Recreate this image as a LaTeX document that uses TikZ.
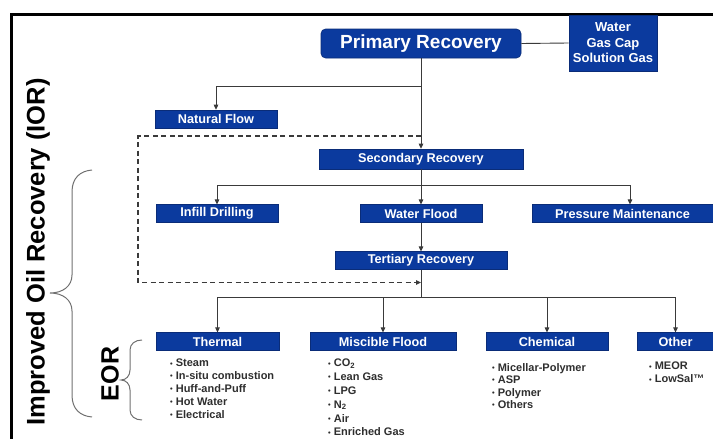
\documentclass[tikz,border=0pt]{standalone}
\usepackage{fontspec}
\setmainfont{Liberation Sans}
\usetikzlibrary{arrows.meta}
\definecolor{boxblue}{HTML}{0B3A9E}
\definecolor{boxedge}{HTML}{0A2C78}
\definecolor{txtgray}{HTML}{2E2E2E}
\definecolor{linegray}{HTML}{3A3A3A}
\definecolor{bracegray}{HTML}{707070}
\newcommand\mybul{\raisebox{0.8pt}{\fontsize{7.5}{7.5}\selectfont •}\hspace{3pt}}
\begin{document}
\begin{tikzpicture}[x=1pt,y=-1pt,
  bx/.style={fill=boxblue,draw=boxedge,line width=0.6pt,text=white,
    font=\bfseries\fontsize{12.7}{14}\selectfont,inner sep=0pt,anchor=center,
    minimum height=17.5pt},
  conn/.style={draw=linegray,line width=0.9pt},
  arr/.style={conn,-{Triangle[length=5pt,width=4.5pt]}},
  dsh/.style={conn,line width=1.3pt,dash pattern=on 5pt off 3.5pt,-{Triangle[length=5pt,width=4.5pt]}},
  lst/.style={anchor=north west,align=left,text=txtgray,inner sep=0pt},
  brc/.style={draw=bracegray,line width=1pt},
  big/.style={rotate=90,inner sep=0pt,font=\bfseries\fontsize{25.5}{30}\selectfont}
]
\useasboundingbox (0,0) rectangle (713,439);
% frame
\draw[line width=3.5pt] (714,14.5) -- (11.5,14.5) -- (11.5,440);

% boxes
\node[bx,minimum width=200pt,minimum height=29pt,rounded corners=4.5pt,
  font=\bfseries\fontsize{19}{22}\selectfont] (prim) at (421,43.5) {Primary Recovery};
\node[bx,minimum width=88pt,minimum height=56pt,align=center,
  font=\bfseries\fontsize{13}{15.5}\selectfont] (gas) at (613,43) {Water\\Gas Cap\\Solution Gas};
\node[bx,minimum width=122pt,minimum height=18pt] (nat) at (216,119) {Natural Flow};
\node[bx,minimum width=204pt,minimum height=20pt] (sec) at (421,159) {Secondary Recovery};
\node[bx,minimum width=122pt] (infill) at (217,213.5) {Infill Drilling};
\node[bx,minimum width=122pt] (wf) at (421,213.5) {Water Flood};
\node[bx,minimum width=181pt] (pm) at (622.5,213.5) {Pressure Maintenance};
\node[bx,minimum width=172pt] (tert) at (421,260.5) {Tertiary Recovery};
\node[bx,minimum width=123pt] (therm) at (217.5,341.5) {Thermal};
\node[bx,minimum width=146pt] (misc) at (383,341.5) {Miscible Flood};
\node[bx,minimum width=122pt] (chem) at (547,341.5) {Chemical};
\node[bx,minimum width=77pt] (oth) at (675.5,341.5) {Other};

% connectors
\coordinate (b1) at (421,86);
\coordinate (b2) at (421,185);
\coordinate (b3) at (421,297);
\draw[conn] (prim.east) -- (gas.west);
\draw[arr] (prim.south) -- (sec.north);
\draw[arr] (b1) -| (nat.north);
\draw[arr] (b2) -| (infill.north);
\draw[arr] (b2) -| ([xshift=7.5pt]pm.north);
\draw[arr] (sec.south) -- (wf.north);
\draw[arr] (wf.south) -- (tert.north);
\draw[conn] (tert.south) -- (b3);
\draw[arr] (b3) -| (therm.north);
\draw[arr] (b3) -| (misc.north);
\draw[arr] (b3) -| (chem.north);
\draw[arr] (b3) -| (oth.north);

% dashed loop
\coordinate (d1) at (421,136);
\coordinate (d2) at (138,136);
\coordinate (d3) at (138,282.5);
\coordinate (d4) at (421,282.5);
\draw[dsh] (d1) -- (d2) -- (d3) -- (d4);

% lists
\node[lst,font=\bfseries\fontsize{11}{12.8}\selectfont] (l1) at (170,359)
  {\mybul Steam\\\mybul In-situ combustion\\\mybul Huff-and-Puff\\\mybul Hot Water\\\mybul Electrical};
\node[lst,font=\bfseries\fontsize{11}{13.8}\selectfont] (l2) at (328,359)
  {\mybul CO\textsubscript{2}\\\mybul Lean Gas\\\mybul LPG\\\mybul N\textsubscript{2}\\\mybul Air\\\mybul Enriched Gas};
\node[lst,font=\bfseries\fontsize{11}{12.5}\selectfont] (l3) at (492,363)
  {\mybul Micellar-Polymer\\\mybul ASP\\\mybul Polymer\\\mybul Others};
\node[lst,font=\bfseries\fontsize{11}{13}\selectfont] (l4) at (649,362)
  {\mybul MEOR\\\mybul LowSal™};

% side labels and braces
\node[big] (ior) at (38,252) {Improved Oil Recovery (IOR)};
\node[big,font=\bfseries\fontsize{25}{30}\selectfont] (eor) at (110,374) {EOR};
\draw[brc] (92,170) .. controls (80,171) and (72,178) .. (72,192) -- (72,275)
  .. controls (72,286) and (63,293) .. (50,293)
  .. controls (63,293) and (72,300) .. (72,311) -- (72,395)
  .. controls (72,409) and (80,416) .. (92,417);
\draw[brc] (142,340) .. controls (135,340) and (130,344) .. (130,350) -- (130,370)
  .. controls (130,376) and (126,380) .. (121,380)
  .. controls (126,380) and (130,384) .. (130,390) -- (130,410)
  .. controls (130,416) and (135,420) .. (142,420);
\end{tikzpicture}
\end{document}
